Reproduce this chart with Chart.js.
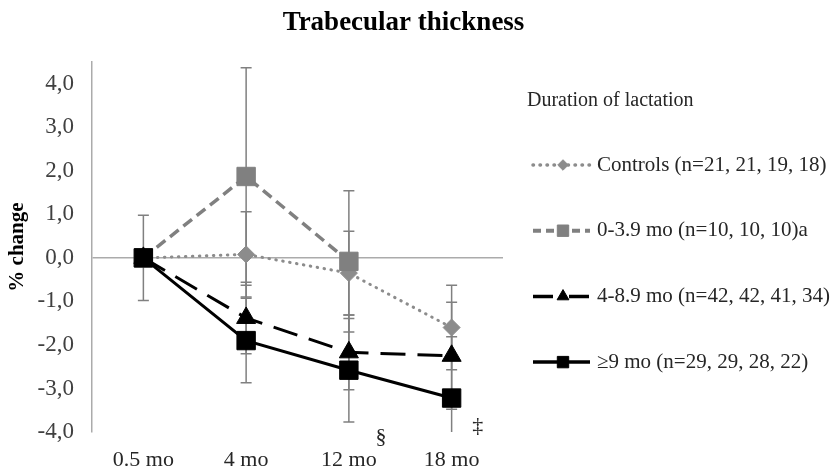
<!DOCTYPE html>
<html>
<head>
<meta charset="utf-8">
<script src="https://cdn.jsdelivr.net/npm/chart.js@4.4.0/dist/chart.umd.min.js"></script>
<style>
  body { margin: 0; background: #fff; }
  #wrap { width: 831px; height: 472px; }
</style>
</head>
<body>
<div id="wrap"><canvas id="thickness-chart"></canvas></div>
<script>
const SERIF = "'Liberation Serif', 'Times New Roman', serif";

// timepoints and group means (% change from 0.5 mo), with error bar half-widths
const timepoints = ["0.5 mo", "4 mo", "12 mo", "18 mo"];
const yTicks = [-4, -3, -2, -1, 0, 1, 2, 3, 4];

const controls = [0, 0.08, -0.35, -1.60];
const controlsErr = [0, 0.98, 0.96, 0.97];

const lact0to4 = [0, 1.87, -0.08, null];
const lact0to4Err = [0, 2.50, 1.62, null];

const lact4to9 = [0, -1.38, -2.17, -2.25];
const lact4to9Err = [0, 0.82, 0.86, 1.23];

const lact9plus = [0, -1.90, -2.58, -3.22];
const lact9plusErr = [0.98, 0.97, 1.19, 1.41];

const groupNames = [
  "Controls (n=21, 21, 19, 18)",
  "0-3.9 mo (n=10, 10, 10)a",
  "4-8.9 mo (n=42, 42, 41, 34)",
  "\u22659 mo (n=29, 29, 28, 22)"
];

// significance marks under the last two timepoints
const sigMarks = [
  { index: 2, text: "\u00a7" },
  { index: 3, text: "\u2021" }
];

const errorBars = {
  id: 'errorBars',
  beforeDatasetsDraw(chart) {
    const ctx = chart.ctx;
    const y = chart.scales.y;
    const area = chart.chartArea;
    ctx.save();
    ctx.beginPath();
    ctx.rect(area.left, area.top, area.right - area.left, area.bottom - area.top);
    ctx.clip();
    ctx.strokeStyle = '#808080';
    ctx.lineWidth = 1.5;
    chart.data.datasets.forEach((ds, i) => {
      const meta = chart.getDatasetMeta(i);
      ds.errors.forEach((e, j) => {
        if (e == null || ds.data[j] == null || !e) return;
        const x = meta.data[j].x;
        const top = y.getPixelForValue(ds.data[j] + e);
        const bot = y.getPixelForValue(ds.data[j] - e);
        ctx.beginPath();
        ctx.moveTo(x, top); ctx.lineTo(x, bot);
        ctx.moveTo(x - 5.5, top); ctx.lineTo(x + 5.5, top);
        ctx.moveTo(x - 5.5, bot); ctx.lineTo(x + 5.5, bot);
        ctx.stroke();
      });
    });
    ctx.restore();
  }
};

// title, side legend and significance marks
const decorations = {
  id: 'decorations',
  afterDraw(chart) {
    const ctx = chart.ctx;
    const area = chart.chartArea;
    ctx.save();
    ctx.fillStyle = '#000';
    ctx.textAlign = 'center';
    ctx.textBaseline = 'alphabetic';
    ctx.font = "bold 27px " + SERIF;
    ctx.fillText("Trabecular thickness", (chart.width - 24) / 2, 30);

    ctx.fillStyle = '#262626';
    ctx.textAlign = 'left';
    ctx.textBaseline = 'middle';
    ctx.font = "20px " + SERIF;
    ctx.fillText("Duration of lactation", area.right + 24, 101);

    const x0 = area.right + 30;
    chart.data.datasets.forEach((ds, i) => {
      const yy = 165 + i * 65.7;
      ctx.save();
      ctx.strokeStyle = ds.borderColor;
      ctx.lineWidth = ds.borderWidth + 0.5;
      ctx.lineCap = ds.borderCapStyle || 'butt';
      ctx.setLineDash(ds.legendDash || ds.borderDash || []);
      ctx.beginPath();
      ctx.moveTo(x0, yy);
      ctx.lineTo(x0 + 57, yy);
      ctx.stroke();
      ctx.restore();
      ctx.fillStyle = ds.backgroundColor;
      ctx.strokeStyle = ds.borderColor;
      Chart.helpers.drawPoint(ctx, {
        pointStyle: ds.pointStyle, radius: ds.pointRadius * 0.62, rotation: 0, borderWidth: 1
      }, x0 + 30, yy);
      ctx.fillStyle = '#262626';
      ctx.font = "21px " + SERIF;
      ctx.fillText(ds.label, x0 + 64, yy);
    });

    // § sits just below the axis, ‡ a little higher beside the last point
    const markShift = [{ dx: 32, dy: 5 }, { dx: 26, dy: -6 }];
    ctx.font = "22px " + SERIF;
    ctx.textAlign = 'center';
    sigMarks.forEach((m, k) => {
      const x = chart.scales.x.getPixelForValue(m.index) + markShift[k].dx;
      ctx.fillText(m.text, x, area.bottom + markShift[k].dy);
    });
    ctx.restore();
  }
};

new Chart(document.getElementById('thickness-chart'), {
  type: 'line',
  data: {
    labels: timepoints,
    datasets: [
      {
        label: groupNames[0],
        data: controls,
        errors: controlsErr,
        borderColor: '#8c8c8c',
        backgroundColor: '#8c8c8c',
        borderWidth: 3,
        borderDash: [0.5, 6.5],
        borderCapStyle: 'round',
        pointStyle: 'rectRot',
        pointRadius: 8.5,
        pointBorderWidth: 1,
        order: 3
      },
      {
        label: groupNames[1],
        data: lact0to4,
        errors: lact0to4Err,
        borderColor: '#808080',
        backgroundColor: '#808080',
        borderWidth: 3.5,
        borderDash: [11, 6],
        legendDash: [8, 5],
        pointStyle: 'rect',
        pointRadius: 13,
        pointBorderWidth: 1,
        order: 2
      },
      {
        label: groupNames[2],
        data: lact4to9,
        errors: lact4to9Err,
        borderColor: '#000',
        backgroundColor: '#000',
        borderWidth: 3,
        borderDash: [25, 12],
        legendDash: [20, 16],
        pointStyle: 'triangle',
        pointRadius: 11,
        pointBorderWidth: 1,
        order: 1
      },
      {
        label: groupNames[3],
        data: lact9plus,
        errors: lact9plusErr,
        borderColor: '#000',
        backgroundColor: '#000',
        borderWidth: 3,
        pointStyle: 'rect',
        pointRadius: 13,
        pointBorderWidth: 1,
        order: 0
      }
    ]
  },
  options: {
    responsive: true,
    maintainAspectRatio: false,
    animation: false,
    events: [],
    layout: { padding: { top: 62, right: 328, left: 0, bottom: 0 } },
    plugins: {
      legend: { display: false },
      title: { display: false },
      tooltip: { enabled: false }
    },
    scales: {
      x: {
        offset: true,
        grid: { display: false },
        border: { display: false },
        ticks: { color: '#262626', font: { family: SERIF, size: 22 }, padding: 7 },
        afterFit(s) { s.height = 40; }
      },
      y: {
        min: -4,
        max: 4.5,
        ticks: {
          color: '#404040',
          font: { family: SERIF, size: 23 },
          padding: 18,
          callback: v => v.toFixed(1).replace('.', ',')
        },
        afterBuildTicks(s) { s.ticks = yTicks.map(v => ({ value: v })); },
        grid: {
          drawTicks: false,
          lineWidth: 1.5,
          color: c => c.tick && c.tick.value === 0 ? '#ababab' : 'rgba(0,0,0,0)'
        },
        border: { color: '#ababab', width: 1.5 },
        title: {
          display: true,
          text: '% change',
          color: '#000',
          font: { family: SERIF, size: 21, weight: 'bold' },
          padding: { top: 5, bottom: 0 }
        },
        afterFit(s) { s.width = 92; }
      }
    }
  },
  plugins: [errorBars, decorations]
});
</script>
</body>
</html>
